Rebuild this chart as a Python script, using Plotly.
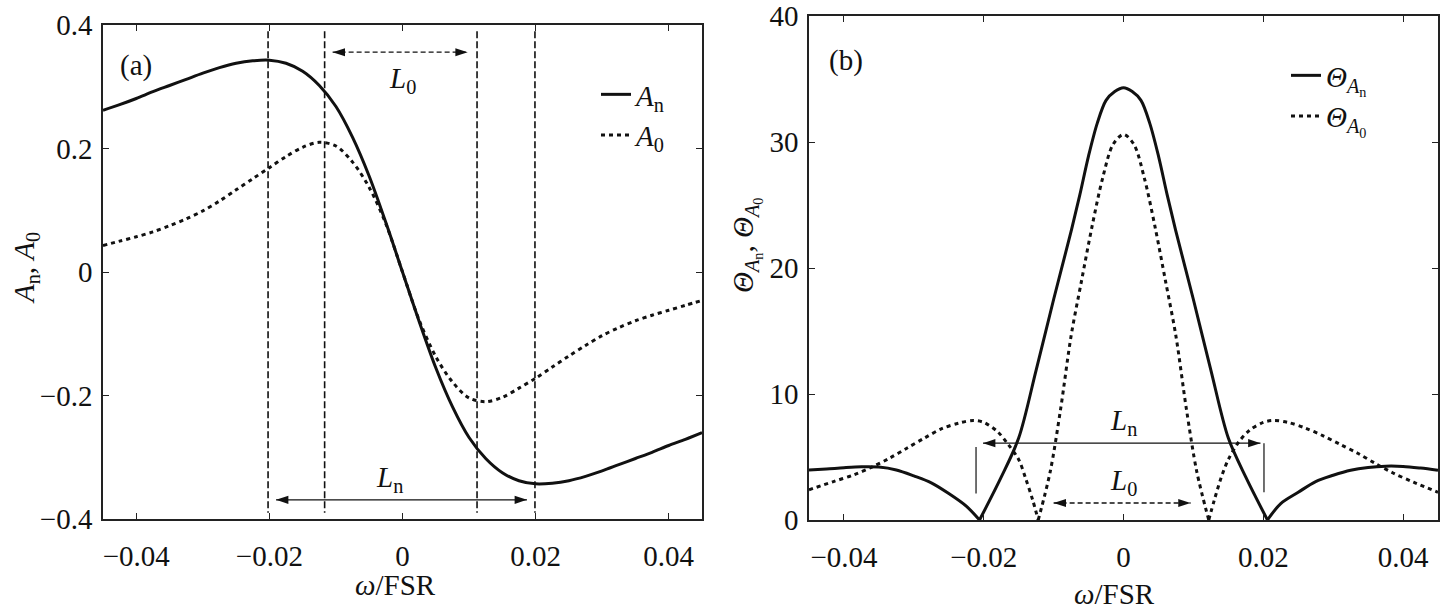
import plotly.graph_objects as go

# ---------------- data ----------------
omega_a = [-0.045, -0.0425, -0.04, -0.0375, -0.035, -0.0325, -0.03, -0.0275, -0.025, -0.0225,
           -0.02, -0.0175, -0.015, -0.0125, -0.01, -0.0075, -0.005, -0.0025, 0.0, 0.0025,
           0.005, 0.0075, 0.01, 0.0125, 0.015, 0.0175, 0.02, 0.0225, 0.025, 0.0275,
           0.03, 0.0325, 0.035, 0.0375, 0.04, 0.0425, 0.045]
A_n = [0.262, 0.271, 0.281, 0.292, 0.302, 0.312, 0.322, 0.331, 0.338, 0.342,
       0.343, 0.338, 0.325, 0.302, 0.268, 0.218, 0.155, 0.080, 0.0, -0.080,
       -0.155, -0.218, -0.268, -0.302, -0.325, -0.338, -0.343, -0.342, -0.338, -0.331,
       -0.322, -0.312, -0.302, -0.292, -0.281, -0.271, -0.260]
A_0 = [0.043, 0.050, 0.057, 0.065, 0.075, 0.086, 0.099, 0.115, 0.133, 0.151,
       0.169, 0.187, 0.202, 0.210, 0.204, 0.178, 0.137, 0.078, 0.0, -0.078,
       -0.137, -0.178, -0.204, -0.210, -0.203, -0.188, -0.172, -0.154, -0.136, -0.119,
       -0.103, -0.090, -0.079, -0.070, -0.062, -0.054, -0.046]

omega_bn = [-0.045, -0.0425, -0.04, -0.0375, -0.035, -0.0325, -0.03, -0.0275, -0.025, -0.0225, -0.0206,
            None,
            -0.0206, -0.0175, -0.015, -0.0125, -0.01, -0.0075, -0.00625, -0.005, -0.00375,
            -0.0025, -0.00125, 0.0, 0.00125, 0.0025, 0.00375, 0.005, 0.00625, 0.0075,
            0.01, 0.0125, 0.015, 0.0175, 0.0206,
            None,
            0.0206, 0.0225, 0.025, 0.0275, 0.03, 0.0325, 0.035, 0.0375, 0.04, 0.0425, 0.045]
theta_n = [3.97, 4.05, 4.15, 4.22, 4.2, 3.97, 3.5, 2.95, 2.1, 1.1, 0.0,
           None,
           0.0, 3.4, 6.5, 11.9, 17.5, 22.9, 25.8, 28.9, 31.5,
           33.3, 34.0, 34.3, 34.0, 33.3, 31.5, 28.9, 25.8, 22.9,
           17.5, 11.9, 6.5, 3.4, 0.0,
           None,
           0.0, 1.3, 2.2, 3.05, 3.55, 3.95, 4.17, 4.27, 4.25, 4.12, 3.95]

omega_b0 = [-0.045, -0.0415, -0.0385, -0.036, -0.0335, -0.031, -0.0285, -0.026, -0.0235, -0.0215,
            -0.02, -0.018, -0.0165, -0.015, -0.014, -0.013, -0.0122,
            None,
            -0.0122, -0.0105, -0.009, -0.0075, -0.006, -0.0045, -0.003, -0.0015, 0.0,
            0.0015, 0.003, 0.0045, 0.006, 0.0075, 0.009, 0.0105, 0.0122,
            None,
            0.0122, 0.013, 0.014, 0.015, 0.0165, 0.018, 0.02, 0.0215, 0.0235, 0.026,
            0.0285, 0.031, 0.0335, 0.036, 0.0385, 0.0415, 0.045]
theta_0 = [2.4, 3.05, 3.6, 4.2, 4.9, 5.7, 6.5, 7.25, 7.7, 7.9,
           7.75, 7.0, 6.0, 4.8, 3.3, 1.6, 0.0,
           None,
           0.0, 3.8, 8.8, 14.6, 19.0, 23.3, 27.1, 29.8, 30.6,
           29.8, 27.1, 23.3, 19.0, 14.6, 8.8, 3.8, 0.0,
           None,
           0.0, 1.6, 3.4, 4.8, 6.2, 7.1, 7.75, 7.9, 7.75, 7.3,
           6.7, 6.0, 5.3, 4.5, 3.75, 3.0, 2.2]

x_tickvals = [-0.04, -0.02, 0, 0.02, 0.04]
x_ticktext = ["\u22120.04", "\u22120.02", "0", "0.02", "0.04"]
ya_tickvals = [-0.4, -0.2, 0, 0.2, 0.4]
ya_ticktext = ["\u22120.4", "\u22120.2", "0", "0.2", "0.4"]
yb_tickvals = [0, 10, 20, 30, 40]
yb_ticktext = ["0", "10", "20", "30", "40"]

# annotation geometry (data units)
vlines_a = [-0.0202, -0.0117, 0.0112, 0.0199]
L0_a = (-0.0105, 0.0098, 0.356)
Ln_a = (-0.019, 0.0187, -0.369)
Ln_b = (-0.0201, 0.0196, 6.1)
L0_b = (-0.0100, 0.0096, 1.35)
marks_b = [(-0.0211, 2.1, 5.8), (0.0201, 2.2, 6.1)]

# ---------------- styling ----------------
FONT = "Liberation Serif"
INK = "#111111"
FS = 29

fig = go.Figure()
fig.add_trace(go.Scatter(x=omega_a, y=A_n, mode="lines", name="<i>A</i><sub>n</sub>",
                         line=dict(color=INK, width=3, shape="spline", smoothing=0.9),
                         xaxis="x", yaxis="y", legend="legend"))
fig.add_trace(go.Scatter(x=omega_a, y=A_0, mode="lines", name="<i>A</i><sub>0</sub>",
                         line=dict(color=INK, width=3, dash="4px,4px", shape="spline", smoothing=0.9),
                         xaxis="x", yaxis="y", legend="legend"))
fig.add_trace(go.Scatter(x=omega_bn, y=theta_n, mode="lines",
                         name="<i>\u0398</i><sub><i>A</i><sub>n</sub></sub>",
                         line=dict(color=INK, width=3, shape="spline", smoothing=0.9),
                         xaxis="x2", yaxis="y2", legend="legend2"))
fig.add_trace(go.Scatter(x=omega_b0, y=theta_0, mode="lines",
                         name="<i>\u0398</i><sub><i>A</i><sub>0</sub></sub>",
                         line=dict(color=INK, width=3, dash="4px,4px", shape="spline", smoothing=0.9),
                         xaxis="x2", yaxis="y2", legend="legend2"))

# arrow heads (tips at the arrow ends)
for (xa, xb, yv), xr, yr in [(L0_a, "x", "y"), (Ln_a, "x", "y"), (L0_b, "x2", "y2"), (Ln_b, "x2", "y2")]:
    fig.add_trace(go.Scatter(x=[xa, xb], y=[yv, yv], mode="markers", showlegend=False,
                             hoverinfo="skip", xaxis=xr, yaxis=yr,
                             marker=dict(symbol="arrow", size=13, angle=[-90, 90], color=INK,
                                         line=dict(width=0))))

axis_common = dict(showline=True, linecolor="#222", linewidth=1.6, mirror="ticks",
                   ticks="inside", ticklen=6, tickwidth=1.3, tickcolor="#222",
                   showgrid=False, zeroline=False, automargin=False,
                   tickfont=dict(family=FONT, size=FS, color=INK))

W, H = 1448, 612
fig.update_layout(
    width=W, height=H, margin=dict(l=0, r=0, t=0, b=0, pad=0, autoexpand=False),
    paper_bgcolor="white", plot_bgcolor="white",
    xaxis=dict(domain=[103 / W, 702 / W], range=[-0.045, 0.045], anchor="y",
               tickvals=x_tickvals, ticktext=x_ticktext, ticklabelstandoff=10, **axis_common),
    yaxis=dict(domain=[(H - 519) / H, (H - 25) / H], range=[-0.4, 0.4], anchor="x",
               tickvals=ya_tickvals, ticktext=ya_ticktext, ticklabelstandoff=3, **axis_common),
    xaxis2=dict(domain=[809 / W, 1438 / W], range=[-0.045, 0.045], anchor="y2",
                tickvals=x_tickvals, ticktext=x_ticktext, ticklabelstandoff=10, **axis_common),
    yaxis2=dict(domain=[(H - 520) / H, (H - 16) / H], range=[0, 40], anchor="x2",
                tickvals=yb_tickvals, ticktext=yb_ticktext, ticklabelstandoff=3, **axis_common),
    legend=dict(x=596 / W, y=1 - 69 / H, xanchor="left", yanchor="top",
                bgcolor="rgba(0,0,0,0)", font=dict(family=FONT, size=FS, color=INK)),
    legend2=dict(x=1286 / W, y=1 - 50 / H, xanchor="left", yanchor="top",
                 bgcolor="rgba(0,0,0,0)", font=dict(family=FONT, size=FS, color=INK)),
    showlegend=True,
)

shapes = []
for xv in vlines_a:
    shapes.append(dict(type="line", xref="x", yref="y", x0=xv, x1=xv, y0=0.39, y1=-0.39,
                       line=dict(color=INK, width=1.6, dash="7px,3px")))
for (xa, xb, yv), xr, yr, dsh in [(L0_a, "x", "y", "5px,3px"), (L0_b, "x2", "y2", "5px,3px"),
                                  (Ln_a, "x", "y", "solid"), (Ln_b, "x2", "y2", "solid")]:
    shapes.append(dict(type="line", xref=xr, yref=yr, x0=xa, x1=xb, y0=yv, y1=yv,
                       line=dict(color=INK, width=1.3, dash=dsh)))
for xv, y0, y1 in marks_b:
    shapes.append(dict(type="line", xref="x2", yref="y2", x0=xv, x1=xv, y0=y0, y1=y1,
                       line=dict(color=INK, width=1.2)))
fig.update_layout(shapes=shapes)

ann = []
txt = dict(family=FONT, size=FS, color=INK)
labels = [
    ("(a)", -0.0400, 0.335, "x", "y"),
    ("<i>L</i><sub>0</sub>", 0.0, 0.311, "x", "y"),
    ("<i>L</i><sub>n</sub>", -0.002, -0.335, "x", "y"),
    ("(b)", -0.0397, 36.5, "x2", "y2"),
    ("<i>L</i><sub>n</sub>", 0.0, 7.8, "x2", "y2"),
    ("<i>L</i><sub>0</sub>", 0.0, 3.0, "x2", "y2"),
]
for t, xv, yv, xr, yr in labels:
    ann.append(dict(x=xv, y=yv, xref=xr, yref=yr, text=t, showarrow=False, font=txt))

titles = [
    ("<i>A</i><sub>n</sub>, <i>A</i><sub>0</sub>", 26 / W, 1 - 268 / H, -90),
    ("<i>\u0398</i><sub><i>A</i><sub>n</sub></sub>, <i>\u0398</i><sub><i>A</i><sub>0</sub></sub>",
     746 / W, 1 - 246 / H, -90),
    ("<i>\u03c9</i>/FSR", 395 / W, 1 - 585 / H, 0),
    ("<i>\u03c9</i>/FSR", 1114 / W, 1 - 594 / H, 0),
]
for t, xv, yv, ang in titles:
    ann.append(dict(x=xv, y=yv, xref="paper", yref="paper", text=t, showarrow=False,
                    textangle=ang, font=txt, xanchor="center", yanchor="middle"))
fig.update_layout(annotations=ann)

fig.write_html("out.html")
